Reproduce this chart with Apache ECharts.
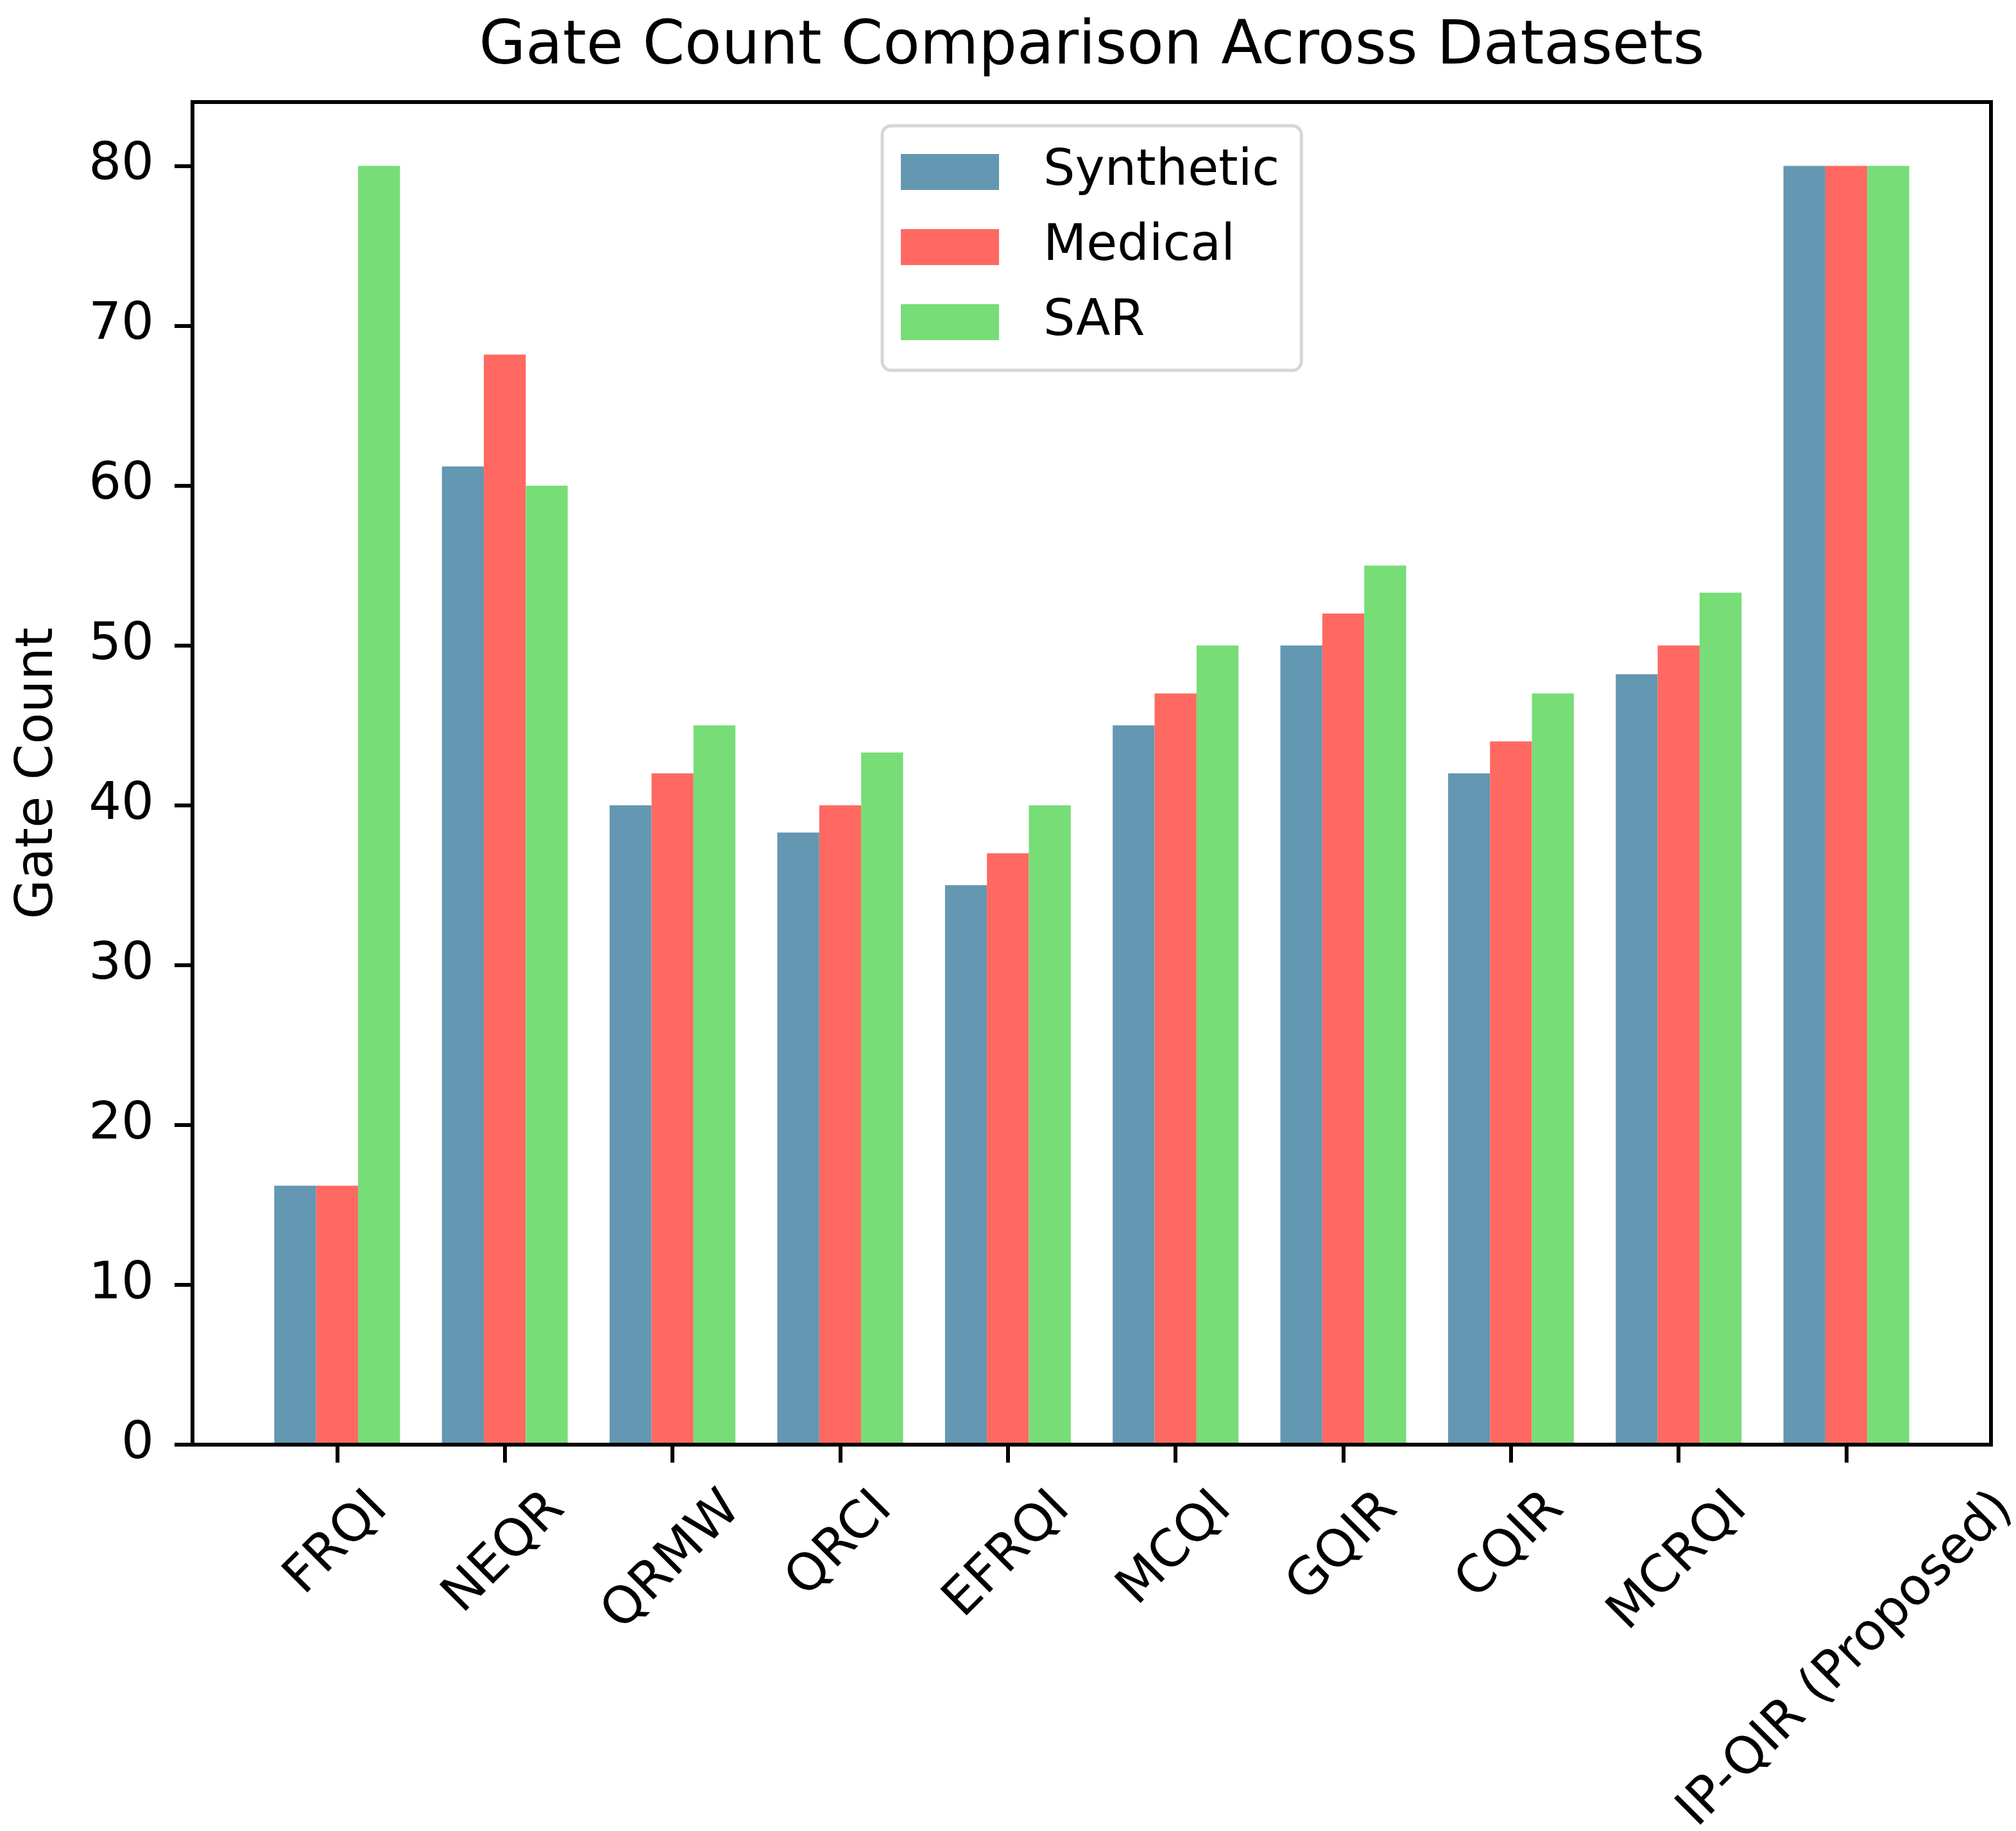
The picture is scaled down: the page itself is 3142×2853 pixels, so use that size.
<!DOCTYPE html>
<html>
<head>
<meta charset="utf-8">
<script src="https://cdn.jsdelivr.net/npm/echarts@6/dist/echarts.min.js"></script>
<style>
  html, body { margin: 0; padding: 0; background: #fff; }
  #chart { width: 3142px; height: 2853px; }
</style>
</head>
<body>
<div id="chart"></div>
<script>
// data
const categories = ['FRQI', 'NEQR', 'QRMW', 'QRCI', 'EFRQI', 'MCQI', 'GQIR', 'CQIR', 'MCRQI', 'IP-QIR (Proposed)']
const seriesNames = ['Synthetic', 'Medical', 'SAR']
const synthetic = [16.2, 61.2, 40, 38.3, 35, 45, 50, 42, 48.2, 80]
const medical = [16.2, 68.2, 42, 40, 37, 47, 52, 44, 50, 80]
const sar = [80, 60, 45, 43.3, 40, 50, 55, 47, 53.3, 80]
const yTicks = [0, 10, 20, 30, 40, 50, 60, 70, 80]

const colors = ['#6497b1', '#ff6961', '#77dd77']
const FONT = 'DejaVu Sans'
const labelSize = 80
const legendSize = 78
const titleSize = 94
const titleText = 'Gate Count Comparison Across Datasets'

// plot frame (matplotlib axes box)
const plotLeft = 300
const plotTop = 159
const plotWidth = 2803
const plotHeight = 2092
// matplotlib xlim is [-0.8625, 9.8625]; categories sit in [-0.5, 9.5]
const xSpan = 10.725
const unit = plotWidth / xSpan
const innerLeft = plotLeft + 0.3625 * unit
const innerWidth = 10 * unit

// text measuring, used to centre rotated tick labels like matplotlib does
const ctx = document.createElement('canvas').getContext('2d')
const measure = (text, size) => {
  ctx.font = `${size}px "${FONT}"`
  return ctx.measureText(text).width
}

// matplotlib: rotated label box centred on the tick, its top just under the tick.
// zrender: with verticalAlign top the text moves down by padding[0] (rotated frame),
// and with align center it moves left by padding[1] / 2.
const mplBoxH = labelSize * 1.164
const categoryData = categories.map(name => {
  const D = (measure(name, labelSize) + mplBoxH) * Math.SQRT1_2 / 2
  const b = D * Math.SQRT1_2
  const q = Math.max(0, b - labelSize / 2)
  return {
    value: name,
    textStyle: {
      align: 'center',
      verticalAlign: 'top',
      lineHeight: labelSize,
      padding: [q, 2 * b, 0, 0]
    }
  }
})

const titleLeft = plotLeft + plotWidth / 2 - measure(titleText, titleSize) / 2

const barSeries = [synthetic, medical, sar].map((values, i) => ({
  name: seriesNames[i],
  type: 'bar',
  xAxisIndex: 1,
  yAxisIndex: 1,
  barWidth: '25%',
  barGap: '0%',
  itemStyle: { color: colors[i] },
  data: values
}))

const chart = echarts.init(document.getElementById('chart'), null, { renderer: 'canvas' })

const option = {
  animation: false,
  backgroundColor: '#fff',
  color: colors,
  title: {
    text: titleText,
    left: titleLeft,
    top: 28,
    padding: 0,
    textStyle: { fontFamily: FONT, fontSize: titleSize, fontWeight: 'normal', color: '#000' }
  },
  legend: {
    data: seriesNames,
    orient: 'vertical',
    left: 1375,
    top: 196,
    itemWidth: 153,
    itemHeight: 56,
    itemGap: 37,
    icon: 'rect',
    padding: [32, 34, 35, 29],
    backgroundColor: '#fff',
    borderColor: '#d6d6d6',
    borderWidth: 5,
    borderRadius: 14,
    textStyle: {
      fontFamily: FONT,
      fontSize: legendSize,
      color: '#000',
      lineHeight: 80,
      padding: [0, 0, 0, 64]
    }
  },
  grid: [
    {
      left: plotLeft, top: plotTop, width: plotWidth, height: plotHeight,
      show: true, borderColor: '#000', borderWidth: 6, backgroundColor: 'transparent',
      z: 10, outerBoundsMode: 'none'
    },
    {
      left: innerLeft, top: plotTop, width: innerWidth, height: plotHeight,
      outerBoundsMode: 'none'
    }
  ],
  xAxis: [
    { type: 'value', gridIndex: 0, min: 0, max: 1, show: false },
    {
      type: 'category',
      gridIndex: 1,
      data: categoryData,
      axisLine: { show: false },
      axisTick: { show: true, alignWithLabel: true, length: 28, lineStyle: { color: '#000', width: 6 } },
      axisLabel: {
        interval: 0,
        rotate: 45,
        margin: 55,
        fontFamily: FONT,
        fontSize: labelSize,
        color: '#000'
      },
      splitLine: { show: false }
    }
  ],
  yAxis: [
    {
      type: 'value',
      gridIndex: 0,
      min: 0,
      max: 84,
      interval: 10,
      axisLine: { show: false },
      axisTick: { show: true, length: 28, lineStyle: { color: '#000', width: 6 }, customValues: yTicks },
      axisLabel: { customValues: yTicks, margin: 60, fontFamily: FONT, fontSize: labelSize, color: '#000' },
      splitLine: { show: false },
      name: 'Gate Count',
      nameLocation: 'middle',
      nameGap: 200,
      nameMoveOverlap: false,
      nameTextStyle: { fontFamily: FONT, fontSize: labelSize, color: '#000' }
    },
    { type: 'value', gridIndex: 1, min: 0, max: 84, show: false }
  ],
  series: barSeries
}

chart.setOption(option)
</script>
</body>
</html>
